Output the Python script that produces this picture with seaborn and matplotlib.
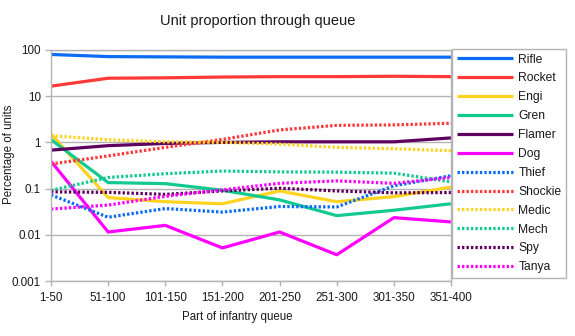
import matplotlib
matplotlib.use("Agg")
import matplotlib.pyplot as plt
import seaborn as sns
import numpy as np
from matplotlib.ticker import FixedLocator, FixedFormatter, NullLocator

categories = ["1-50", "51-100", "101-150", "151-200", "201-250", "251-300", "301-350", "351-400"]

rifle   = [80, 72, 71, 70, 70, 70, 70, 70]
rocket  = [16.5, 24.5, 25, 26, 26.5, 26.5, 27, 26.5]
engi    = [1.52, 0.064, 0.052, 0.047, 0.089, 0.052, 0.067, 0.108]
gren    = [1.15, 0.135, 0.128, 0.092, 0.057, 0.026, 0.034, 0.047]
flamer  = [0.68, 0.85, 0.95, 1.0, 1.03, 1.03, 1.03, 1.25]
dog     = [0.39, 0.0115, 0.016, 0.0052, 0.0115, 0.0037, 0.0235, 0.019]
thief   = [0.073, 0.024, 0.037, 0.031, 0.041, 0.040, 0.115, 0.19]
shockie = [0.34, 0.51, 0.78, 1.16, 1.86, 2.34, 2.39, 2.6]
medic   = [1.4, 1.14, 1.03, 1.0, 0.92, 0.78, 0.73, 0.66]
mech    = [0.092, 0.174, 0.21, 0.24, 0.23, 0.227, 0.216, 0.14]
spy     = [0.085, 0.083, 0.075, 0.089, 0.102, 0.089, 0.081, 0.082]
tanya   = [0.036, 0.044, 0.068, 0.094, 0.13, 0.147, 0.13, 0.174]

series_names = ["Rifle", "Rocket", "Engi", "Gren", "Flamer", "Dog",
                "Thief", "Shockie", "Medic", "Mech", "Spy", "Tanya"]
series_values = [rifle, rocket, engi, gren, flamer, dog,
                 thief, shockie, medic, mech, spy, tanya]

y_ticks = [0.001, 0.01, 0.1, 1, 10, 100]
y_tick_labels = ["0.001", "0.01", "0.1", "1", "10", "100"]

blue, red, gold, teal, purple, magenta = "#0a6cf5", "#ff3838", "#ffd320", "#12c990", "#5e005e", "#ff00ff"
colors = [blue, red, gold, teal, purple, magenta] * 2
styles = ["solid"] * 6 + ["dotted"] * 6

sns.set_theme(style="white")
plt.rcParams["font.family"] = ["Liberation Sans", "DejaVu Sans"]
plt.rcParams["lines.solid_capstyle"] = "butt"
plt.rcParams["lines.dash_capstyle"] = "butt"

W, H = 575, 336
fig = plt.figure(figsize=(W / 100, H / 100), dpi=100)
L, R, T, B = 51, 451, 50, 281
ax = fig.add_axes([L / W, 1 - B / H, (R - L) / W, (B - T) / H])

txt = "#1a1a1a"
grid = "#b3b3b3"

for name, vals, c, st in zip(series_names, series_values, colors, styles):
    sns.lineplot(x=categories, y=vals, ax=ax, color=c, linewidth=2.3,
                 label=name, sort=False)
    if st == "dotted":
        ax.lines[-1].set_dashes((0.75, 0.65))

ax.set_yscale("log")
ax.set_ylim(0.001, 100)
ax.set_xlim(0, len(categories) - 1)
ax.yaxis.set_major_locator(FixedLocator(y_ticks))
ax.yaxis.set_major_formatter(FixedFormatter(y_tick_labels))
ax.yaxis.set_minor_locator(NullLocator())

ax.grid(axis="y", color=grid, linewidth=1.0)
ax.grid(axis="x", visible=False)
ax.set_axisbelow(True)
for s in ax.spines.values():
    s.set_color(grid)
    s.set_linewidth(1.0)

ax.tick_params(axis="both", which="major", labelsize=8.4, colors=txt, length=4.3,
               width=1.0, color=grid, direction="out", pad=3)
ax.tick_params(axis="x", length=3.6, pad=4)
ax.tick_params(left=True, bottom=True)

ax.set_xlabel("Part of infantry queue", fontsize=8.3, color=txt)
ax.set_ylabel("Percentage of units", fontsize=8.3, color=txt)
ax.xaxis.set_label_coords((237 - L) / (R - L), -0.13)
ax.yaxis.set_label_coords((15 - L) / (R - L), (B - 154) / (B - T))

fig.text(258 / W, 1 - 21 / H, "Unit proportion through queue", ha="center", va="center",
         fontsize=10.5, color=txt)

leg = ax.legend(loc="upper left", bbox_to_anchor=(452 / W, 1 - 49 / H),
                bbox_transform=fig.transFigure, borderaxespad=0, fontsize=8.7,
                frameon=True, fancybox=False, framealpha=1, edgecolor=grid,
                handlelength=4.7, handletextpad=0.41, labelspacing=0.57,
                borderpad=0.38)
leg.get_frame().set_linewidth(1.0)
for t in leg.get_texts():
    t.set_color(txt)

fig.savefig("out.png", dpi=100)
